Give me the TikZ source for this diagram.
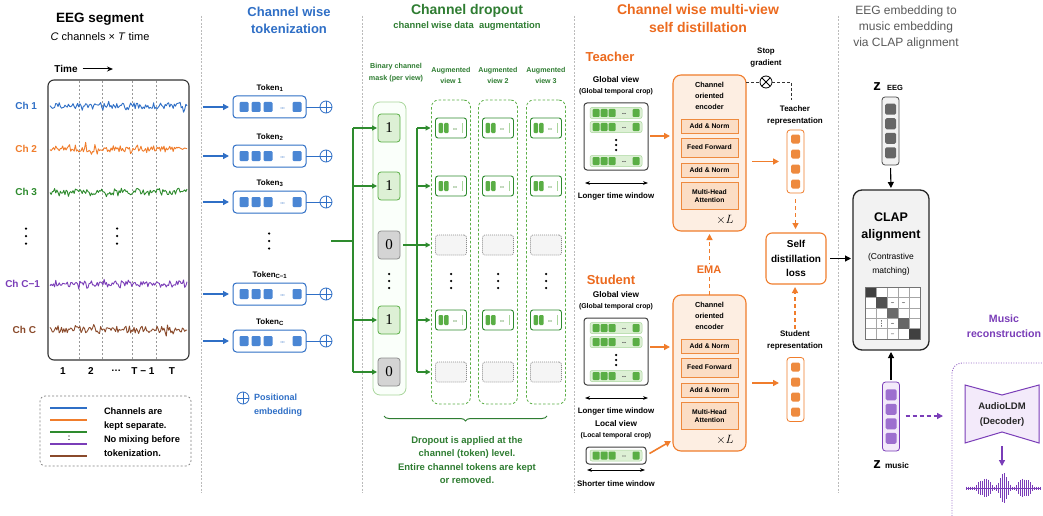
\documentclass[tikz,border=0pt]{standalone}
\usepackage{fontspec}
\setmainfont{Liberation Sans}
\newfontfamily\lmfont{Liberation Serif}
\usetikzlibrary{arrows.meta,decorations.pathreplacing,calc}
\definecolor{cblue}{HTML}{2F6FC6}
\definecolor{tblue}{HTML}{4A86D4}
\definecolor{corange}{HTML}{F07D2C}
\definecolor{torange}{HTML}{EC6A1E}
\definecolor{lorange}{HTML}{FDEEE2}
\definecolor{sorange}{HTML}{FBDDC4}
\definecolor{morange}{HTML}{EE8A3E}
\definecolor{cgreen}{HTML}{2E8B2E}
\definecolor{dgreen}{HTML}{2F7D32}
\definecolor{lgreen}{HTML}{DDF0D5}
\definecolor{mgreen}{HTML}{5AAE45}
\definecolor{pgreen}{HTML}{A9D69C}
\definecolor{cpurple}{HTML}{7A3DB8}
\definecolor{mpurple}{HTML}{9D6FCF}
\definecolor{lpurple}{HTML}{F3EAFA}
\definecolor{cbrown}{HTML}{8A4A2B}
\definecolor{sepgray}{HTML}{BBBBBB}
\definecolor{tgray}{HTML}{5A5A5A}
\definecolor{zgray}{HTML}{666666}

\newcommand\vdts[4][black]{\fill[#1] (#2,#3-#4) circle (1.25pt) (#2,#3) circle (1.25pt) (#2,#3+#4) circle (1.25pt);}
\newcommand\hdts[4]{\fill[#3] (#1-#4*2.4,#2) circle (#4pt) (#1,#2) circle (#4pt) (#1+#4*2.4,#2) circle (#4pt);}
\newcommand\eegsig[3]{\pgfmathsetseed{#3}\draw[#1,line width=0.9pt,line join=round] plot[domain=50:187,samples=120,variable=\t] (\t,{#2+3.1*rand+6*rand*rand*rand});}
\newcommand\tokrow[3]{%
 \node[tokbox] (#1) at (269.5,#2) {};
 \foreach \xx in {244,256,268,297}{\fill[tblue,rounded corners=1.2pt] (\xx-4.5,#2-5) rectangle (\xx+4.5,#2+5);}
 \hdts{282.5}{#2+1}{cblue!70}{0.6}
 \node[plus] (#1p) at (326,#2) {};
 \draw[cblue,line width=0.9pt] (#1.east) -- (#1p.west);
 \node[bx={8}{10}] (#1l) at (270,#2-19) {#3};
 \coordinate (#1s) at (203,#2);
 \draw[barr] (#1s) -- (#1.west);
}
\newcommand\keepcell[3]{%
 \node[keepc] (#1) at (#2,#3) {};
 \fill[mgreen,rounded corners=1pt] (#2-12.5,#3-5) rectangle (#2-8,#3+5);
 \fill[mgreen,rounded corners=1pt] (#2-7,#3-5) rectangle (#2-2.5,#3+5);
 \hdts{#2+4}{#3+1}{mgreen!80!black}{0.55}
 \fill[pgreen] (#2+10.5,#3-5) rectangle (#2+12,#3+5);
}
\newcommand\dropcell[3]{\node[dropc] (#1) at (#2,#3) {};}
\newcommand\vstrip[2]{%
 \fill[lgreen,draw=pgreen,line width=0.5pt,rounded corners=2pt] (#1-26,#2-5.5) rectangle (#1+26,#2+5.5);
 \foreach \o in {-20,-12,-4,20}{\fill[mgreen,rounded corners=1pt] (#1+\o-3.5,#2-4) rectangle (#1+\o+3.5,#2+4);}
 \hdts{#1+8}{#2+0.5}{black!60}{0.55}
}
\newcommand\gview[2]{%
 \node[bx={8.3}{9}] at (616,#2-23) {Global view};
 \node[bx={6.9}{8}] at (616,#2-11) {(Global temporal crop)};
 \node[vbox,minimum height=67pt] (#1) at (616,#2+33.5) {};
 \vstrip{616}{#2+10}
 \vstrip{616}{#2+24}
 \vdts[black]{616}{#2+42}{5}
 \vstrip{616}{#2+58}
 \coordinate (#1a) at (585,#2+80); \coordinate (#1b) at (648,#2+80);
 \draw[dimarr] (#1a) -- (#1b);
 \node[bx={7.9}{9}] at (616,#2+93) {Longer time window};
}
\newcommand\encblock[2]{%
 \node[enc] (#1) at (709.5,#2+78) {};
 \node[bx={7.3}{11}] at (709.5,#2+21) {Channel\\oriented\\encoder};
 \node[subb,minimum height=14pt] at (709.5,#2+51.5) {Add \& Norm};
 \node[subb,minimum height=19pt] at (709.5,#2+72.5) {Feed Forward};
 \node[subb,minimum height=14pt] at (709.5,#2+95) {Add \& Norm};
 \node[subb,minimum height=27pt] at (709.5,#2+121) {Multi-Head\\Attention};
 \node[font=\fontsize{13}{13}\selectfont] at (725,#2+145) {$\times L$};
}
\newcommand\vecn[9]{%
 \node[vecbox,draw=#7,fill=#9,minimum height=#4pt] (#1) at (#2,#3) {};
 \foreach \o in {-1.5,-0.5,0.5,1.5}{\fill[#8,rounded corners=1.5pt] (#2-#5,#3+\o*#6-#5) rectangle (#2+#5,#3+\o*#6+#5);}
}

\begin{document}
\begin{tikzpicture}[x=1pt,y=-1pt,
 every node/.style={inner sep=0pt,outer sep=0pt},
 tx/.style 2 args={font=\fontsize{#1}{#2}\selectfont,align=center},
 bx/.style 2 args={font=\fontsize{#1}{#2}\selectfont\bfseries,align=center},
 sepline/.style={draw=sepgray,line width=0.6pt,dash pattern=on 2pt off 1.5pt},
 barr/.style={draw=cblue,line width=1.3pt,shorten >=4pt,-{Triangle[length=6pt,width=6pt]}},
 tokbox/.style={draw=cblue,line width=1pt,rounded corners=3.5pt,minimum width=73pt,minimum height=22pt,fill=white},
 plus/.style={circle,draw=cblue,line width=0.8pt,minimum size=12pt,
   path picture={\draw[cblue,line width=0.8pt] (path picture bounding box.north) -- (path picture bounding box.south) (path picture bounding box.west) -- (path picture bounding box.east);}},
 otimes/.style={circle,draw=black,line width=0.8pt,minimum size=12pt,
   path picture={\draw[black,line width=0.8pt] (path picture bounding box.north east) -- (path picture bounding box.south west) (path picture bounding box.north west) -- (path picture bounding box.south east);}},
 gline/.style={draw=cgreen,line width=1.1pt},
 garr/.style={draw=cgreen,line width=1.1pt,-{Triangle[length=5pt,width=5pt]}},
 mone/.style={draw=mgreen,fill=lgreen,line width=0.8pt,rounded corners=3pt,minimum width=22pt,minimum height=28pt,font=\lmfont\fontsize{15}{15}\selectfont},
 mzero/.style={draw=black!45,fill=black!17,line width=0.8pt,rounded corners=3pt,minimum width=22pt,minimum height=28pt,font=\lmfont\fontsize{15}{15}\selectfont},
 keepc/.style={draw=cgreen,line width=0.9pt,fill=white,rounded corners=2.5pt,minimum width=31pt,minimum height=20pt},
 dropc/.style={draw=black!45,dash pattern=on 1pt off 1pt,line width=0.7pt,fill=black!4,rounded corners=2.5pt,minimum width=31pt,minimum height=20pt},
 viewcol/.style={draw=mgreen,dash pattern=on 2.5pt off 2pt,line width=0.8pt,rounded corners=7pt,minimum width=39pt,minimum height=304pt},
 maskcol/.style={draw=pgreen,line width=0.8pt,fill=green!2,rounded corners=7pt,minimum width=33pt,minimum height=293pt},
 vbox/.style={draw=black!75,line width=1pt,fill=white,rounded corners=3pt,minimum width=64pt},
 dimarr/.style={{Stealth[length=5pt]}-{Stealth[length=5pt]},line width=1pt},
 oarr/.style={draw=corange,line width=1.6pt,-{Triangle[length=6pt,width=6pt]}},
 odash/.style={draw=corange,line width=1.4pt,dash pattern=on 4pt off 3pt,-{Triangle[length=6pt,width=6pt]}},
 enc/.style={draw=corange,line width=1.1pt,fill=lorange,rounded corners=8pt,minimum width=73pt,minimum height=156pt},
 subb/.style={draw=morange,line width=0.8pt,fill=sorange,minimum width=57pt,font=\fontsize{6.8}{8.5}\selectfont\bfseries,align=center},
 vecbox/.style={rounded corners=3pt,line width=0.8pt,minimum width=17pt},
 karr/.style={draw=black,line width=1.1pt,-{Triangle[length=6pt,width=6pt]}},
]
\useasboundingbox[fill=white] (0,0) rectangle (1043,516);

% separators
\foreach \xx in {201,362,574,838} \draw[sepline] (\xx,16) -- (\xx,493);

% ===== Section 1: EEG segment =====
\node[bx={13.5}{16}] (eegt) at (100,19) {EEG segment};
\node[tx={11}{13}] (eegst) at (100,37) {\textit{C} channels × \textit{T} time};
\node[bx={10}{12}] (timel) at (66,69) {Time};
\coordinate (timeend) at (113,69);
\draw[line width=1pt,-{Stealth[length=6pt,width=5pt]}] ([xshift=5pt]timel.east) -- (timeend);
\foreach \xx in {79,102,132,156} \draw[black!40,dash pattern=on 2pt off 2pt,line width=0.6pt] (\xx,81) -- (\xx,359);
\node[draw=black!80,line width=1.1pt,rounded corners=6pt,minimum width=141pt,minimum height=280pt] (eegbox) at (118.5,220) {};
\eegsig{cblue}{106}{3}
\eegsig{corange}{149}{7}
\eegsig{cgreen}{192}{11}
\eegsig{cpurple}{284}{19}
\eegsig{cbrown}{330}{23}
\node[bx={10}{12},text=cblue,anchor=east] (ch1) at (37,106) {Ch 1};
\node[bx={10}{12},text=corange,anchor=east] (ch2) at (37,149) {Ch 2};
\node[bx={10}{12},text=cgreen,anchor=east] (ch3) at (37,192) {Ch 3};
\node[bx={10}{12},text=cpurple,anchor=east] (chc1) at (40,284) {Ch C−1};
\node[bx={10}{12},text=cbrown,anchor=east] (chc) at (36,330) {Ch C};
\vdts{26}{236}{7.5}
\vdts{117}{236}{7.5}
\foreach \xx/\lab in {63/1,91/2,116/\dots,143/T − 1,172/T} \node[bx={10}{12}] at (\xx,371) {\lab};
\node[draw=black!50,dash pattern=on 2pt off 2pt,line width=0.7pt,rounded corners=5pt,minimum width=151pt,minimum height=70pt] (legbox) at (115.5,431) {};
\foreach \c/\yy in {cblue/408,corange/420,cgreen/432,cpurple/444,cbrown/456} \draw[\c,line width=1.5pt] (50,\yy) -- (87,\yy);
\fill (69,436) circle (0.6pt) (69,439.5) circle (0.6pt);
\node[bx={9.3}{14},align=left,anchor=west] (legt) at (104,432) {Channels are\\kept separate.\\No mixing before\\tokenization.};

% ===== Section 2: tokenization =====
\node[bx={13}{17},text=cblue] at (289,20.5) {Channel wise\\tokenization};
\tokrow{tk1}{107}{Token\textsubscript{1}}
\tokrow{tk2}{156}{Token\textsubscript{2}}
\tokrow{tk3}{202}{Token\textsubscript{3}}
\vdts{269}{241}{7.5}
\tokrow{tk4}{294}{Token\textsubscript{C−1}}
\tokrow{tk5}{341}{Token\textsubscript{C}}
\node[plus] (pleg) at (243,398) {};
\node[bx={9}{13.5},text=cblue,align=left,anchor=west] (plegt) at (254,405) {Positional\\embedding};

% ===== Section 3: channel dropout =====
\node[bx={14}{16},text=dgreen] at (467,11) {Channel dropout};
\node[bx={9.4}{11},text=dgreen] at (467,26) {channel wise data\ \ augmentation};
\node[bx={7.2}{12.5},text=dgreen] at (396,72.5) {Binary channel\\mask (per view)};
\foreach \cx/\n in {451/1,498/2,546/3} \node[bx={7.1}{11},text=dgreen] at (\cx,75.5) {Augmented\\view \n};
\node[maskcol] (mcol) at (389.5,248.5) {};
\foreach \cx/\n in {451/1,498/2,546/3} \node[viewcol] (vcol\n) at (\cx,252) {};
\node[mone] (m1) at (389,128) {1};
\node[mone] (m2) at (389,186) {1};
\node[mzero] (m3) at (389,245) {0};
\vdts{389}{281}{7}
\node[mone] (m4) at (389,320) {1};
\node[mzero] (m5) at (389,372) {0};
\foreach \cx/\n in {451/1,498/2,546/3}{
 \keepcell{a\n r1}{\cx}{128}
 \keepcell{a\n r2}{\cx}{186}
 \dropcell{a\n r3}{\cx}{245}
 \vdts{\cx}{281}{7}
 \keepcell{a\n r4}{\cx}{320}
 \dropcell{a\n r5}{\cx}{372}
}
\coordinate (stemA) at (331,241);
\coordinate (ltop) at (353,128);
\coordinate (lbot) at (353,372);
\draw[gline] (stemA) -- (ltop |- stemA);
\draw[gline] (ltop) -- (lbot);
\foreach \k in {m1,m2,m4,m5} \draw[garr,shorten >=1pt] (ltop |- \k) -- (\k.west);
\coordinate (rtop) at (417,128);
\coordinate (rbot) at (417,372);
\draw[gline] (rtop) -- (rbot);
\foreach \k in {1,2,4,5} \draw[garr,shorten >=5pt] (rtop |- a1r\k) -- (a1r\k.west);
\draw[garr,shorten >=5pt,shorten <=3pt] (m3.east) -- (a1r3.west);
\draw[dgreen,line width=1pt,decorate,decoration={brace,mirror,amplitude=5pt}] (384,416) -- (547,416);
\node[bx={9.5}{13.4},text=dgreen] at (467,460) {Dropout is applied at the\\channel (token) level.\\Entire channel tokens are kept\\or removed.};

% ===== Section 4: self distillation =====
\node[bx={14}{18},text=torange] at (698,18) {Channel wise multi-view\\self distillation};
\node[bx={13}{13},text=torange] at (610,57) {Teacher};
\node[bx={13}{13},text=torange] at (611,280) {Student};
\gview{tview}{103}
\gview{sview}{318}
\node[bx={8.3}{9}] at (616,424) {Local view};
\node[bx={6.9}{8}] at (616,436) {(Local temporal crop)};
\node[vbox,minimum width=60pt,minimum height=17pt] (lview) at (616,455.5) {};
\vstrip{616}{455.5}
\coordinate (lva) at (587,470); \coordinate (lvb) at (645,470);
\draw[dimarr] (lva) -- (lvb);
\node[bx={7.9}{9}] at (616,484) {Shorter time window};
\encblock{tenc}{75}
\encblock{senc}{295}
\draw[oarr,shorten <=2pt,shorten >=3pt] (tview.east |- 0,136) -- (tenc.west |- 0,136);
\draw[oarr,shorten <=2pt,shorten >=3pt] (sview.east |- 0,347) -- (senc.west |- 0,347);
\coordinate (senclo) at (671,441);
\draw[oarr,shorten <=4pt] (lview.east) -- (senclo);
\vecn{trep}{795.5}{161.5}{63}{4.5}{15}{corange}{morange}{white}
\vecn{srep}{795.5}{389.5}{64}{4.5}{15}{corange}{morange}{white}
\node[bx={8}{12.5}] (trepl) at (795,115.5) {Teacher\\representation};
\node[bx={8}{12.5}] (srepl) at (795,340.5) {Student\\representation};
\draw[oarr,shorten <=6pt,shorten >=8pt] (tenc.east |- trep.west) -- (trep.west);
\draw[oarr,shorten <=6pt,shorten >=8pt] (senc.east |- 0,383) -- (srep.west |- 0,383);
\node[draw=corange,line width=1.1pt,rounded corners=6pt,minimum width=60pt,minimum height=51pt,fill=white] (loss) at (796,258.5) {};
\node[bx={10}{14.5}] at (796,258.5) {Self\\distillation\\loss};
\draw[odash,shorten <=6pt,shorten >=4pt] (trep.south) -- (trep.south |- loss.north);
\draw[odash,shorten <=2pt,shorten >=3pt] (srepl.north) -- (srepl.north |- loss.south);
\draw[odash,shorten >=3pt] (senc.north) -- (tenc.south);
\node[bx={11}{11},text=torange,fill=white,inner sep=2pt] (ema) at (709,270) {EMA};
\node[otimes] (sg) at (766,82) {};
\node[bx={7.9}{12}] (sgl) at (766,58) {Stop\\gradient};
\coordinate (sgend) at (791,100);
\draw[black!80,line width=0.8pt,dash pattern=on 3pt off 2pt] (tenc.east |- sg) -- (sg.west);
\draw[black!80,line width=0.8pt,dash pattern=on 3pt off 2pt] (sg.east) -| (sgend);

% ===== Section 5: CLAP =====
\node[tx={12}{16},text=tgray] at (906,27) {EEG embedding to\\music embedding\\via CLAP alignment};
\node[draw=black!85,line width=1.3pt,fill=black!5,rounded corners=9pt,minimum width=76pt,minimum height=160pt] (clap) at (891,270) {};
\node[bx={12.5}{17}] at (891,226.5) {CLAP\\alignment};
\node[tx={8.5}{14}] at (891,264) {(Contrastive\\matching)};
\foreach \i in {0,...,4}{\foreach \j in {0,...,4}{\draw[black!35,fill=white,line width=0.4pt] (865+\j*11,287+\i*10.4) rectangle ++(11,10.4);}}
\foreach \i/\s in {0/75,1/68,2/58,3/60,4/75}{\fill[black!\s] (865+\i*11,287+\i*10.4) rectangle ++(11,10.4);}
\draw[black!55,line width=0.6pt] (865,287) rectangle (920,339);
\foreach \i/\j in {1/2,1/3,3/2,4/2} \hdts{865+\j*11+5.5}{287+\i*10.4+5.2}{black!55}{0.45}
\fill[black!55] (881.5,287+3*10.4+2.7) circle (0.45pt) (881.5,287+3*10.4+5.2) circle (0.45pt) (881.5,287+3*10.4+7.7) circle (0.45pt);
\vecn{zeeg}{890.5}{131}{68}{5.5}{14.5}{black!70}{zgray}{black!5}
\vecn{zmus}{891}{416.5}{69}{5.5}{14.5}{cpurple}{mpurple}{lpurple}
\node[font=\fontsize{15}{15}\selectfont\bfseries,anchor=base] (zl1) at (877,91) {z};
\node[bx={7.5}{8},anchor=base] (zl1b) at (895,91) {EEG};
\node[font=\fontsize{15}{15}\selectfont\bfseries,anchor=base] (zl2) at (877,468) {z};
\node[bx={8.3}{9},anchor=base] (zl2b) at (897,468) {music};
\draw[karr,shorten <=3pt,shorten >=2pt] (zeeg.south) -- (clap.north);
\draw[karr,shorten <=2pt,shorten >=2pt] (zmus.north) -- (clap.south);
\draw[karr,shorten <=4pt,shorten >=2pt] (loss.east) -- (clap.west |- loss.east);
\node[bx={10.6}{15},text=cpurple] at (1004,326) {Music\\reconstruction};
\draw[cpurple!75,line width=0.9pt,dash pattern=on 1pt off 1.5pt,rounded corners=10pt] (952,516) -- (952,363) -- (1043,363);
\draw[cpurple,fill=lpurple,line width=1pt] (965,385) -- (1002,395) -- (1039,385) -- (1039,443) -- (1002,432) -- (965,443) -- cycle;
\node[bx={9.5}{15},text=black!85] (ldm) at (1002,414.5) {AudioLDM\\(Decoder)};
\coordinate (ldmtop) at (943,416);
\draw[cpurple,line width=1.3pt,dash pattern=on 4pt off 3pt,-{Triangle[length=6pt,width=6pt]},shorten <=6pt] (zmus.east |- ldmtop) -- (ldmtop);
\coordinate (wavtop) at (1002,446);
\coordinate (wavbot) at (1002,466);
\draw[cpurple,line width=1.3pt,-{Triangle[length=6pt,width=6pt]}] (wavtop) -- (wavbot);
\draw[cpurple,line width=0.8pt] (966,488) -- (1040,488);
\foreach \xx in {966,968,...,1040}{
 \pgfmathsetmacro\hh{1.5+(13*max(0,1-abs(\xx-984)/9)+15*max(0,1-abs(\xx-1003)/9)+13*max(0,1-abs(\xx-1024)/9))*(0.45+0.55*abs(sin(\xx*13)))}
 \draw[cpurple,line width=0.9pt] (\xx,488-\hh) -- (\xx,488+\hh);}
\end{tikzpicture}
\end{document}
